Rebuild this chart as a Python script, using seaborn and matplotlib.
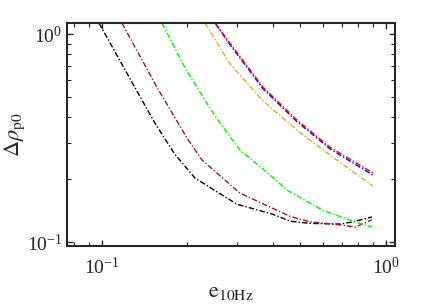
import numpy as np
import pandas as pd
import matplotlib
matplotlib.use('Agg')
import matplotlib.pyplot as plt
import seaborn as sns

# values (log-log axes)
black_e = [0.0976, 0.1300, 0.1537, 0.1800, 0.2126, 0.2988, 0.400, 0.459, 0.540, 0.689, 0.765, 0.893]
black_v = [1.13, 0.560, 0.373, 0.266, 0.203, 0.152, 0.136, 0.126, 0.123, 0.122, 0.125, 0.132]

brown_e = [0.1176, 0.156, 0.1994, 0.225, 0.306, 0.459, 0.540, 0.689, 0.780, 0.893]
brown_v = [1.13, 0.556, 0.316, 0.248, 0.172, 0.133, 0.125, 0.121, 0.118, 0.128]

green_e = [0.1626, 0.198, 0.2399, 0.256, 0.306, 0.391, 0.448, 0.600, 0.765, 0.893]
green_v = [1.13, 0.671, 0.441, 0.386, 0.277, 0.210, 0.178, 0.142, 0.126, 0.118]

orange_e = [0.2306, 0.2823, 0.369, 0.486, 0.635, 0.900]
orange_v = [1.13, 0.720, 0.478, 0.345, 0.262, 0.186]

red_e = [0.250, 0.2823, 0.369, 0.486, 0.635, 0.900]
red_v = [1.13, 0.905, 0.556, 0.386, 0.286, 0.215]

blue_e = [0.252, 0.2823, 0.369, 0.486, 0.635, 0.900]
blue_v = [1.12, 0.890, 0.547, 0.380, 0.281, 0.210]

SERIES = [
    (black_e, black_v, '#000000'),
    (brown_e, brown_v, '#A2142F'),
    (green_e, green_v, '#00FF00'),
    (orange_e, orange_v, '#F0A830'),
    (blue_e, blue_v, '#0000FF'),
    (red_e, red_v, '#FF0000'),
]

sns.set_style('ticks')
plt.rcParams['font.family'] = ['Liberation Serif', 'DejaVu Serif']
plt.rcParams['mathtext.fontset'] = 'stix'

fig = plt.figure(figsize=(4.36, 3.08), dpi=100)
ax = fig.add_axes([0.1537, 0.201, 0.752, 0.724])
ax.set_xscale('log')
ax.set_yscale('log')

for e, v, c in SERIES:
    df = pd.DataFrame({'e': e, 'v': v})
    sns.lineplot(data=df, x='e', y='v', ax=ax, color=c, lw=1.0,
                 linestyle=(0, (4, 1.5, 1, 1.5)), sort=False)

ax.set_xlim(0.0753, 1.076)
ax.set_ylim(0.0956, 1.13)

for s in ax.spines.values():
    s.set_color('#262626')
    s.set_linewidth(1.5)
ax.tick_params(which='both', direction='in', top=True, right=True,
               color='#262626', labelsize=14)
ax.tick_params(axis='x', which='major', pad=8)
ax.tick_params(which='major', length=4, width=1)
ax.tick_params(which='minor', length=3, width=0.8)
ax.xaxis.set_minor_formatter(matplotlib.ticker.NullFormatter())
ax.yaxis.set_minor_formatter(matplotlib.ticker.NullFormatter())

ax.set_xlabel(r'$\mathrm{e}_{\mathrm{10Hz}}$', fontsize=16, labelpad=3)
ax.set_ylabel(r'$\Delta\rho_{\mathrm{p0}}$', fontsize=16, labelpad=0)

fig.savefig('out.png', dpi=100)
